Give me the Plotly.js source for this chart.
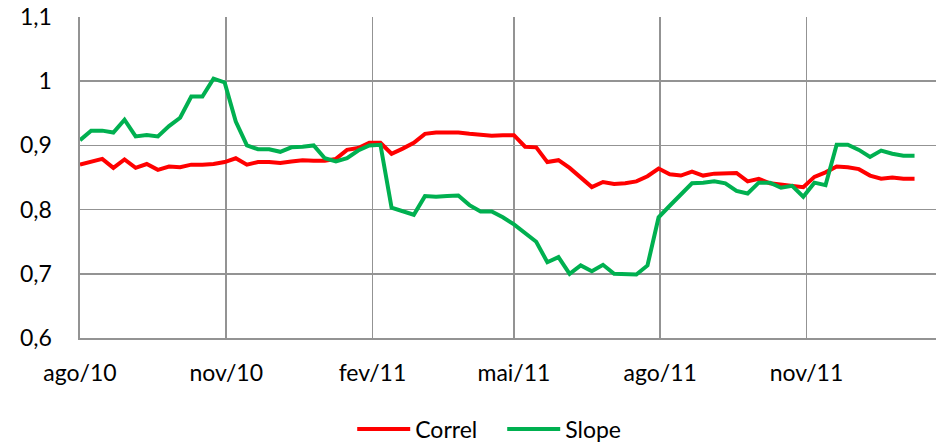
<!DOCTYPE html>
<html>
<head>
<meta charset="utf-8">
<script src="https://cdn.plot.ly/plotly-3.0.1.min.js"></script>
<style>
html,body{margin:0;padding:0;background:#fff;}
#chart{width:942px;height:443px;}
</style>
</head>
<body>
<div id="chart"></div>
<script>
const dates = [
 '2010-08-01','2010-08-08','2010-08-15','2010-08-22','2010-08-29','2010-09-05','2010-09-12','2010-09-19','2010-09-26',
 '2010-10-03','2010-10-10','2010-10-17','2010-10-24','2010-10-31','2010-11-07','2010-11-14','2010-11-21','2010-11-28',
 '2010-12-05','2010-12-12','2010-12-19','2010-12-26','2011-01-02','2011-01-09','2011-01-16','2011-01-23','2011-01-30',
 '2011-02-06','2011-02-13','2011-02-20','2011-02-27','2011-03-06','2011-03-13','2011-03-20','2011-03-27','2011-04-03',
 '2011-04-10','2011-04-17','2011-04-24','2011-05-01','2011-05-08','2011-05-15','2011-05-22','2011-05-29','2011-06-05',
 '2011-06-12','2011-06-19','2011-06-26','2011-07-03','2011-07-10','2011-07-17','2011-07-24','2011-07-31','2011-08-07',
 '2011-08-14','2011-08-21','2011-08-28','2011-09-04','2011-09-11','2011-09-18','2011-09-25','2011-10-02','2011-10-09',
 '2011-10-16','2011-10-23','2011-10-30','2011-11-06','2011-11-13','2011-11-20','2011-11-27','2011-12-04','2011-12-11',
 '2011-12-18','2011-12-25','2012-01-01','2012-01-08'
];

const correl = [
 0.870,0.875,0.879,0.865,0.878,0.865,0.871,0.862,0.867,
 0.866,0.870,0.870,0.871,0.874,0.880,0.870,0.874,0.874,
 0.8725,0.875,0.877,0.876,0.876,0.879,0.893,0.896,0.904,
 0.904,0.887,0.895,0.904,0.918,0.920,0.920,0.920,0.918,
 0.916,0.915,0.916,0.916,0.898,0.897,0.874,0.877,0.865,
 0.851,0.835,0.843,0.840,0.841,0.844,0.852,0.864,0.855,
 0.853,0.859,0.853,0.856,0.857,0.857,0.844,0.848,0.841,
 0.839,0.837,0.835,0.851,0.858,0.867,0.866,0.863,0.853,
 0.848,0.850,0.848,0.848
];

const slope = [
 0.908,0.923,0.923,0.920,0.940,0.914,0.916,0.914,0.930,
 0.943,0.976,0.976,1.004,0.998,0.937,0.900,0.894,0.894,
 0.890,0.897,0.898,0.900,0.880,0.875,0.880,0.892,0.900,
 0.901,0.803,0.798,0.792,0.821,0.820,0.821,0.822,0.807,
 0.797,0.797,0.788,0.777,0.764,0.750,0.718,0.726,0.700,
 0.713,0.704,0.714,0.700,0.700,0.699,0.713,0.788,0.806,
 0.823,0.841,0.842,0.844,0.841,0.829,0.825,0.842,0.842,
 0.834,0.837,0.820,0.842,0.838,0.901,0.901,0.893,0.882,
 0.892,0.887,0.884,0.884
];

const xTickVals = ['2010-08-01','2010-11-01','2011-02-01','2011-05-01','2011-08-01','2011-11-01'];
const xTickText = ['ago/10','nov/10','fev/11','mai/11','ago/11','nov/11'];
const yTickVals = [0.6,0.7,0.8,0.9,1.0,1.1];
const yTickText = ['0,6','0,7','0,8','0,9','1','1,1'];

const FONT = 'Lato, "Open Sans", "Liberation Sans", sans-serif';
const GRID = '#939393';

const traces = [
 {x: dates, y: correl, name: 'Correl', type: 'scatter', mode: 'lines',
  line: {color: '#ff0000', width: 4}},
 {x: dates, y: slope, name: 'Slope', type: 'scatter', mode: 'lines',
  line: {color: '#00b050', width: 4}}
];

const layout = {
 width: 942, height: 443,
 margin: {l: 80, r: 6, t: 17, b: 105, pad: 0},
 paper_bgcolor: '#ffffff', plot_bgcolor: '#ffffff',
 font: {family: FONT, size: 23, color: '#000000'},
 showlegend: true,
 legend: {orientation: 'h', x: 0.318, xanchor: 'left', xref: 'paper',
  y: 0.0316, yanchor: 'middle', yref: 'container',
  font: {family: FONT, size: 23, color: '#000000'}, bgcolor: 'rgba(0,0,0,0)',
  itemwidth: 53, entrywidth: 82, entrywidthmode: 'pixels', borderwidth: 0},
 xaxis: {type: 'date', range: ['2010-08-01', '2012-01-21 12:00'],
  tickmode: 'array', tickvals: xTickVals, ticktext: xTickText,
  showgrid: true, gridcolor: GRID, gridwidth: 1.6,
  showline: true, linecolor: GRID, linewidth: 1.6,
  ticks: '', zeroline: false, ticklabelstandoff: 14, automargin: false,
  tickfont: {family: FONT, size: 23, color: '#000000'}},
 yaxis: {range: [0.6, 1.1], tickmode: 'array', tickvals: yTickVals, ticktext: yTickText,
  showgrid: true, gridcolor: GRID, gridwidth: 1.6,
  showline: true, linecolor: GRID, linewidth: 1.6,
  ticks: '', zeroline: false, ticklabelstandoff: 22, automargin: false,
  tickfont: {family: FONT, size: 23, color: '#000000'}}
};

Plotly.newPlot('chart', traces, layout, {displayModeBar: false, staticPlot: true});
</script>
</body>
</html>
